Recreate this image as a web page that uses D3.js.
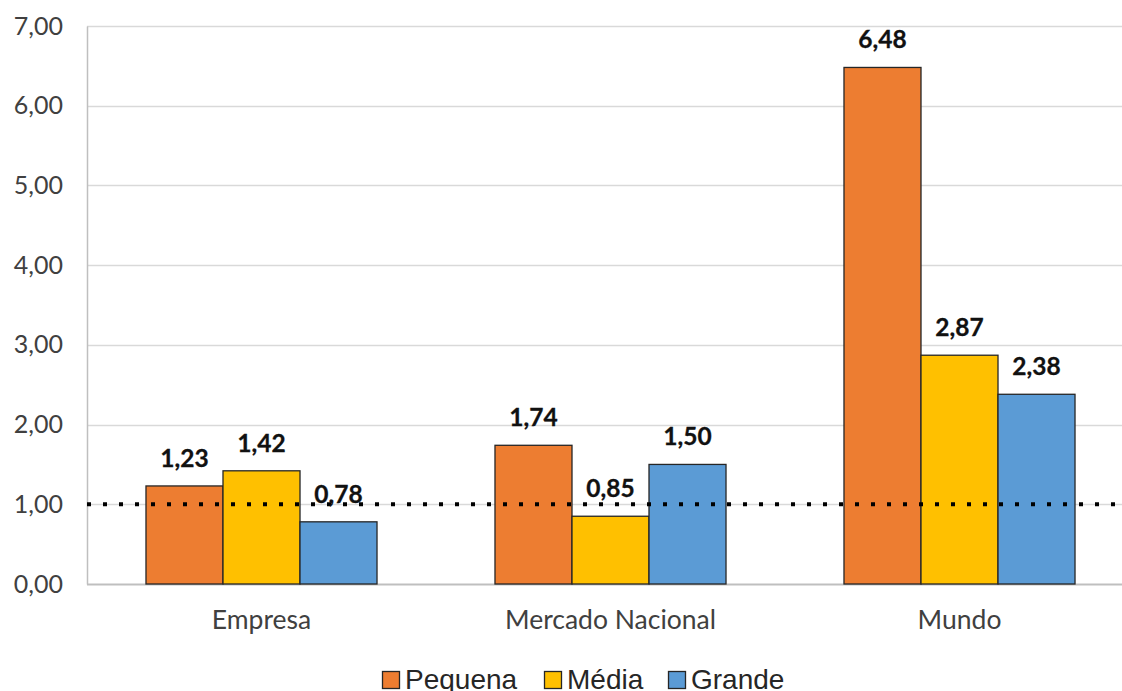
<!DOCTYPE html>
<html>
<head>
<meta charset="utf-8">
<script src="https://cdn.jsdelivr.net/npm/d3@7/dist/d3.min.js"></script>
<style>
  html, body { margin: 0; padding: 0; background: #fff; }
  svg { display: block; }
</style>
</head>
<body>
<svg id="chart" width="1122" height="691"></svg>
<script>
// Categories and series
const categories = ["Empresa", "Mercado Nacional", "Mundo"];
const seriesNames = ["Pequena", "Média", "Grande"];
const pequena = [1.23, 1.74, 6.48];
const media   = [1.42, 0.85, 2.87];
const grande  = [0.78, 1.50, 2.38];
const yTicks = [0, 1, 2, 3, 4, 5, 6, 7];
const referenceValue = 1.0;

(function () {
  const seriesValues = [pequena, media, grande];
  const colors = ["#ED7D31", "#FFC000", "#5B9BD5"];

  const svg = d3.select("#chart");
  const W = 1122;
  const plotLeft = 87, plotTop = 26, plotBottom = 584, plotRight = 1134;

  const fmt = v => d3.format(".2f")(v).replace(".", ",");

  const y = d3.scaleLinear().domain([0, 7]).range([plotBottom, plotTop]);
  const x0 = d3.scaleBand().domain(categories).range([plotLeft, plotRight]).padding(0);
  const x1 = d3.scaleBand().domain(seriesNames).range([0, x0.bandwidth()])
    .paddingInner(0).paddingOuter(0.766);

  // Gridlines
  svg.append("g").selectAll("line").data(yTicks.filter(d => d > 0)).join("line")
    .attr("x1", plotLeft).attr("x2", W)
    .attr("y1", d => Math.round(y(d)) + 0.5).attr("y2", d => Math.round(y(d)) + 0.5)
    .attr("stroke", "#d9d9d9").attr("stroke-width", 1.5);

  // Y axis
  const yAxis = d3.axisLeft(y).tickValues(yTicks).tickFormat(fmt).tickSize(0).tickPadding(24);
  const gy = svg.append("g").attr("transform", `translate(${plotLeft},0)`).call(yAxis);
  gy.select(".domain").attr("stroke", "#bfbfbf").attr("stroke-width", 1.5);
  gy.selectAll("text").attr("font-family", "Lato, sans-serif").attr("font-size", 25)
    .attr("fill", "#404040");

  // X axis baseline and category labels
  const xAxis = d3.axisBottom(x0).tickSize(0).tickPadding(26);
  const gx = svg.append("g").attr("transform", `translate(0,${plotBottom})`).call(xAxis);
  gx.select(".domain").remove();
  gx.append("line").attr("x1", plotLeft).attr("x2", W).attr("y1", 0.5).attr("y2", 0.5)
    .attr("stroke", "#bfbfbf").attr("stroke-width", 2);
  gx.selectAll(".tick text").attr("font-family", "Lato, sans-serif").attr("font-size", 26.5)
    .attr("fill", "#404040");

  // Bars
  const data = [];
  categories.forEach((c, i) => {
    seriesNames.forEach((s, j) => {
      data.push({ cat: c, series: s, value: seriesValues[j][i], color: colors[j] });
    });
  });

  svg.append("g").selectAll("rect").data(data).join("rect")
    .attr("x", d => x0(d.cat) + x1(d.series))
    .attr("y", d => y(d.value))
    .attr("width", x1.bandwidth())
    .attr("height", d => plotBottom - y(d.value))
    .attr("fill", d => d.color)
    .attr("stroke", "#262626").attr("stroke-width", 1.3);

  // Reference line at 1,00
  svg.append("line")
    .attr("x1", plotLeft).attr("x2", 1118)
    .attr("y1", y(referenceValue)).attr("y2", y(referenceValue))
    .attr("stroke", "#000").attr("stroke-width", 4)
    .attr("stroke-dasharray", "4 12");

  // Value labels
  svg.append("g").selectAll("text").data(data).join("text")
    .attr("x", d => x0(d.cat) + x1(d.series) + x1.bandwidth() / 2)
    .attr("y", d => y(d.value) - 19)
    .attr("text-anchor", "middle")
    .attr("font-family", "Lato, sans-serif").attr("font-weight", "bold")
    .attr("font-size", 24.5).attr("fill", "#111")
    .attr("stroke", "#111").attr("stroke-width", 0.3)
    .text(d => fmt(d.value));

  // Legend
  const legendItems = [
    { name: "Pequena", color: colors[0], x: 382 },
    { name: "Média", color: colors[1], x: 544 },
    { name: "Grande", color: colors[2], x: 668 }
  ];
  const lg = svg.append("g");
  legendItems.forEach(it => {
    lg.append("rect").attr("x", it.x + 0.5).attr("y", 671.5).attr("width", 17).attr("height", 17)
      .attr("fill", it.color).attr("stroke", "#262626").attr("stroke-width", 1.3);
    lg.append("text").attr("x", it.x + 23).attr("y", 689)
      .attr("font-family", "'Liberation Sans', Arial, sans-serif").attr("font-size", 28)
      .attr("fill", "#262626").text(it.name);
  });
})();
</script>
</body>
</html>
